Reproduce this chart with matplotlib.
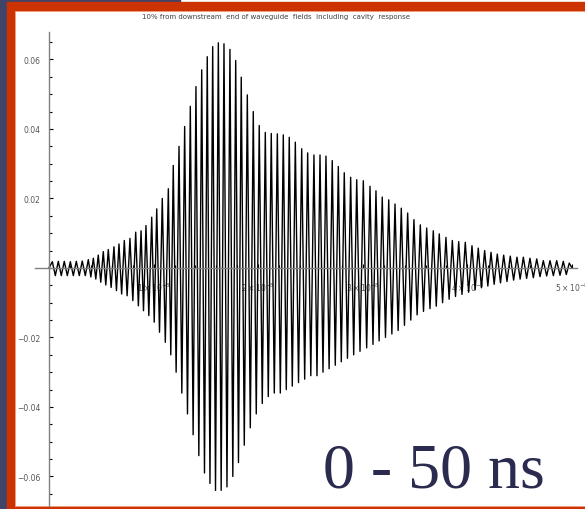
import matplotlib
matplotlib.use("Agg")
import matplotlib.pyplot as plt
from matplotlib.patches import Rectangle
from matplotlib.ticker import MultipleLocator, FixedLocator
import numpy as np

# times of the positive peaks (ns) and their values
peak_t_ns = [0.32, 0.89, 1.46, 2.04, 2.61, 3.18, 3.76, 4.24, 4.71, 5.19,
             5.67, 6.21, 6.69, 7.20, 7.74, 8.29, 8.80, 9.27, 9.82, 10.30,
             10.83, 11.41, 11.88, 12.43, 12.97, 13.51, 14.05, 14.60, 15.13, 15.65,
             16.19, 16.73, 17.30, 17.85, 18.38, 18.96, 19.53, 20.10, 20.68, 21.25,
             21.83, 22.40, 22.97, 23.55, 24.16, 24.73, 25.33, 25.91, 26.48, 27.08,
             27.66, 28.23, 28.84, 29.42, 30.05, 30.69, 31.26, 31.86, 32.48, 33.08,
             33.68, 34.29, 34.89, 35.50, 36.11, 36.74, 37.31, 37.95, 38.56, 39.17,
             39.80, 40.44, 41.04, 41.65, 42.26, 42.86, 43.47, 44.10, 44.74, 45.35,
             45.98, 46.63, 47.26, 47.90, 48.54, 49.17, 49.74]
peak_val = [0.0018, 0.0019, 0.0019, 0.0018, 0.0019, 0.0020, 0.0024, 0.0028, 0.0037, 0.0047,
            0.0053, 0.0061, 0.0069, 0.0079, 0.0085, 0.0103, 0.0107, 0.0122, 0.0146, 0.0170,
            0.0200, 0.0228, 0.0295, 0.0350, 0.0407, 0.0465, 0.0522, 0.0570, 0.0608, 0.0637,
            0.0648, 0.0645, 0.0629, 0.0597, 0.0549, 0.0498, 0.0450, 0.0410, 0.0390, 0.0387,
            0.0386, 0.0383, 0.0376, 0.0362, 0.0343, 0.0331, 0.0325, 0.0325, 0.0322, 0.0309,
            0.0292, 0.0274, 0.0261, 0.0254, 0.0251, 0.0235, 0.0222, 0.0204, 0.0196, 0.0184,
            0.0172, 0.0158, 0.0139, 0.0124, 0.0115, 0.0107, 0.0098, 0.0088, 0.0079, 0.0076,
            0.0074, 0.0064, 0.0057, 0.0050, 0.0045, 0.0040, 0.0037, 0.0034, 0.0031, 0.0031,
            0.0028, 0.0026, 0.0021, 0.0021, 0.0021, 0.0019, 0.0014]
# negative troughs, one between each pair of neighbouring peaks
trough_val = [-0.0022, -0.0022, -0.0022, -0.0022, -0.0022, -0.0022, -0.0026, -0.0032, -0.0041, -0.0049,
              -0.0056, -0.0065, -0.0075, -0.0080, -0.0094, -0.0109, -0.0123, -0.0137, -0.0156, -0.0185,
              -0.0214, -0.0250, -0.030, -0.036, -0.042, -0.048, -0.054, -0.059, -0.062, -0.064,
              -0.064, -0.063, -0.060, -0.056, -0.051, -0.046, -0.042, -0.039, -0.037, -0.036,
              -0.036, -0.035, -0.034, -0.033, -0.032, -0.031, -0.031, -0.030, -0.029, -0.028,
              -0.027, -0.026, -0.025, -0.024, -0.023, -0.022, -0.021, -0.020, -0.019, -0.018,
              -0.0165, -0.015, -0.0135, -0.0125, -0.0117, -0.0110, -0.0100, -0.0090, -0.0082, -0.0076,
              -0.0070, -0.0063, -0.0057, -0.0052, -0.0047, -0.0043, -0.0039, -0.0035, -0.0032, -0.0030,
              -0.0028, -0.0025, -0.0023, -0.0022, -0.0021, -0.0019]

x_tick_labels = [r"$1\times10^{-8}$", r"$2\times10^{-8}$", r"$3\times10^{-8}$",
                 r"$4\times10^{-8}$", r"$5\times10^{-8}$"]
title = "10% from downstream  end of waveguide  fields  including  cavity  response"

# build the trace: start at zero, peak / trough alternating, back to zero at 50 ns
pk_t = np.array(peak_t_ns)
tr_t = (pk_t[:-1] + pk_t[1:]) / 2
t = [0.0]
y = [0.0]
for i in range(len(pk_t)):
    t.append(pk_t[i]); y.append(peak_val[i])
    if i < len(trough_val):
        t.append(tr_t[i]); y.append(trough_val[i])
t.append(50.0); y.append(0.0)
t = np.array(t) * 1e-9
y = np.array(y)

W, H = 585, 510
fig = plt.figure(figsize=(5.85, 5.10), dpi=100, facecolor="white")

# slide frame, kept behind the axes
navy = "#404468"
orange = "#cc3300"
frame = [
    Rectangle((0, 0), 7 / W, 1, color=navy),
    Rectangle((0, 1 - 3 / H), 180 / W, 3 / H, color=navy),
    Rectangle((7 / W, 0), 1, 1 - 3 / H, color=orange),
    Rectangle((15 / W, 3 / H), 1, 1 - 15 / H, facecolor="white", edgecolor="#f0a080", lw=0.6),
]
for p in frame:
    p.set_transform(fig.transFigure)
    p.set_zorder(-5)
    fig.patches.append(p)

ax = fig.add_axes([35 / W, 3 / H, 542 / W, 474 / H])
ax.set_zorder(2)
ax.set_facecolor("none")
ax.plot(t, y, color="black", lw=1.0, zorder=3)

ax.set_xlim(-1.338e-9, 5.048e-8)
ax.set_ylim(-0.0685, 0.0679)

for s in ["top", "right"]:
    ax.spines[s].set_visible(False)
ax.spines["left"].set_position(("data", 0))
ax.spines["bottom"].set_position(("data", 0))
for s in ["left", "bottom"]:
    ax.spines[s].set_color("#808080")
    ax.spines[s].set_linewidth(1.0)
    ax.spines[s].set_zorder(4)

ax.xaxis.set_major_locator(FixedLocator([1e-8, 2e-8, 3e-8, 4e-8, 5e-8]))
ax.xaxis.set_minor_locator(MultipleLocator(0.2e-8))
ax.set_xticklabels(x_tick_labels)
ax.yaxis.set_major_locator(FixedLocator([-0.06, -0.04, -0.02, 0.02, 0.04, 0.06]))
ax.yaxis.set_minor_locator(MultipleLocator(0.005))
ax.set_yticklabels(["\u22120.06", "\u22120.04", "\u22120.02", "0.02", "0.04", "0.06"])

ax.tick_params(axis="both", which="both", direction="in", color="black",
               labelcolor="#555555", labelsize=5.5)
ax.tick_params(axis="both", which="major", length=3, width=0.8)
ax.tick_params(axis="both", which="minor", length=2, width=0.8)
ax.tick_params(axis="y", pad=6)
ax.tick_params(axis="x", pad=9)

fig.text(276 / W, 1 - 16.5 / H, title, ha="center", va="center",
         fontsize=5, color="#404040")
fig.text(323 / W, 1 - 487 / H, "0 - 50 ns", ha="left", va="baseline",
         fontsize=46, family="Liberation Serif", color="#2b2b50")

fig.savefig("out.png", dpi=100, facecolor=fig.get_facecolor())
